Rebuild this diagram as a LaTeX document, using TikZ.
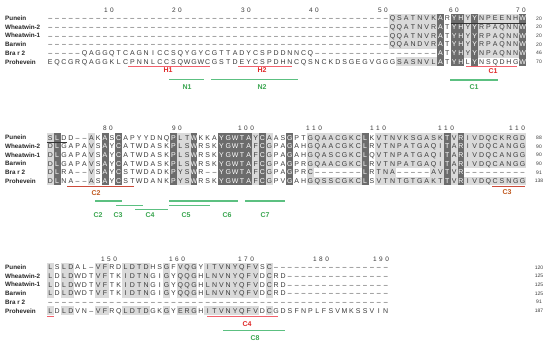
\documentclass[tikz,border=0pt]{standalone}
\usepackage{fontspec}
\setmainfont{Liberation Sans}
\definecolor{dkcell}{HTML}{6C6C6C}
\definecolor{ltcell}{HTML}{DADADA}
\definecolor{txt}{HTML}{3A3A3A}
\definecolor{redl}{HTML}{F2606C}
\definecolor{redt}{HTML}{E02828}
\definecolor{orgt}{HTML}{C0581E}
\definecolor{orgl}{HTML}{CC4A3A}
\definecolor{grnl}{HTML}{5CC081}
\definecolor{grnt}{HTML}{3AA650}
\tikzset{
  seqch/.style={anchor=base, inner sep=0pt, font=\fontsize{7}{8}\selectfont, text=txt},
  seqwh/.style={seqch, text=white},
  darkcell/.style={fill=dkcell},
  lightcell/.style={fill=ltcell},
  rowname/.style={anchor=base west, inner sep=0pt, font=\fontsize{6.3}{7}\selectfont\bfseries, text=black!85},
  rownum/.style={anchor=base, inner sep=0pt, font=\fontsize{5}{6}\selectfont, text=txt},
  colnum/.style={anchor=base, inner sep=0pt, font=\fontsize{6.5}{7}\selectfont, text=txt},
  redline/.style={draw=redl, line width=1.1pt},
  orgline/.style={draw=orgl, line width=1.1pt},
  grnline/.style={draw=grnl, line width=1.1pt},
  redlab/.style={anchor=base, inner sep=0pt, font=\fontsize{7}{8}\selectfont\bfseries, text=redt},
  orglab/.style={anchor=base, inner sep=0pt, font=\fontsize{7}{8}\selectfont\bfseries, text=orgt},
  grnlab/.style={anchor=base, inner sep=0pt, font=\fontsize{7}{8}\selectfont\bfseries, text=grnt},
  blkline/.style={draw=black!80, line width=0.7pt}
}
\newcommand\cellput[4]{%
  \if -#3\relax
    \node[seqch] at (#1,#2+2.5) {\textendash};%
  \else
    \if d#4\relax
      \fill[darkcell] (#1-3.45,#2-4.4) rectangle (#1+3.45,#2+4.4);%
      \node[seqwh] at (#1,#2+2.5) {#3};%
    \else
      \if l#4\relax
        \fill[lightcell] (#1-3.45,#2-4.4) rectangle (#1+3.45,#2+4.4);%
      \fi
      \node[seqch] at (#1,#2+2.5) {#3};%
    \fi
  \fi
}
\ExplSyntaxOn
\tl_new:N \l_aln_seq_tl
\tl_new:N \l_aln_sh_tl
\NewDocumentCommand \alnrow { m m m m }
  {
    \tl_set:Nx \l_aln_seq_tl {#3}
    \tl_set:Nx \l_aln_sh_tl {#4}
    \int_step_inline:nn { \tl_count:N \l_aln_seq_tl }
      {
        \use:x
          {
            \exp_not:N \cellput
              { \fp_eval:n { #1 + (##1 - 1) * 6.845 } }
              { #2 }
              { \tl_item:Nn \l_aln_seq_tl {##1} }
              { \tl_item:Nn \l_aln_sh_tl {##1} }
          }
      }
  }
\ExplSyntaxOff
\newcommand\rowlabel[3]{\node[rowname] at (5,#1+2.2) {#2};\node[rownum] at (539,#1+1.8) {#3};}
\def\dX{..........}
\def\dsh{----------}
\def\lE{llllllll}
\def\lX{llllllllll}
\def\lN{lllllllll}
\def\shAa{\dX\dX\dX\dX\dX llllllld.ddldlllllld}
\def\shAb{\dX\dX\dX\dX\dX.lllllld.dd.d......d}
\def\shB{ld....l.d.d.......dlld...dddddldl..d..\lE d.\lX dld\lN}
\def\shC{l.ll...ll..llll..l.lll.\lE.l\dX.......}
\begin{document}
\begin{tikzpicture}[x=1pt,y=-1pt]
\useasboundingbox (0,0) rectangle (550,343);
\fill[white] (0,0) rectangle (550,343);

% ---------- Block 1 ----------
\node[colnum] (h10) at (109,12.3) {1\kern2.5pt0};
\node[colnum] (h20) at (177,12.3) {2\kern2.5pt0};
\node[colnum] (h30) at (246,12.3) {3\kern2.5pt0};
\node[colnum] (h40) at (314,12.3) {4\kern2.5pt0};
\node[colnum] (h50) at (383,12.3) {5\kern2.5pt0};
\node[colnum] (h60) at (454,12.3) {6\kern2.5pt0};
\node[colnum] (h70) at (521,12.3) {7\kern2.5pt0};
\alnrow{50.3}{18.3}{\dsh\dsh\dsh\dsh\dsh QSATNVKARYHYYNPEENHW}{\shAa}
\alnrow{50.3}{27.0}{\dsh\dsh\dsh\dsh\dsh QQATNVRATYHYYRPAQNNW}{\shAa}
\alnrow{50.3}{35.7}{\dsh\dsh\dsh\dsh\dsh QQATNVRATYHYYRPAQNNW}{\shAa}
\alnrow{50.3}{44.4}{\dsh\dsh\dsh\dsh\dsh QQANDVRATYHYYRPAQNNW}{\shAa}
\alnrow{50.3}{53.1}{-----QAGGQTCAGNICCSQYGYCGTTADYCSPDDNNCQ\dsh--------ATYHYYNPAQNNW}{\shAa}
\alnrow{50.3}{61.8}{EQCGRQAGGKLCPNNLCCSQWGWCGSTDEYCSPDHNCQSNCKDSGEGVGGGSASNVLATYHLYNSQDHGW}{\shAb}
\rowlabel{18.3}{Punein}{20}
\rowlabel{27.0}{Wheatwin-2}{20}
\rowlabel{35.7}{Wheatwin-1}{20}
\rowlabel{44.4}{Barwin}{20}
\rowlabel{53.1}{Bra r 2}{46}
\rowlabel{61.8}{Prohevein}{70}
\draw[blkline] (450.7,22.9) -- (526,22.9);
\draw[redline] (128,66.6) -- (210,66.6);
\draw[redline] (238,66.6) -- (292,66.6);
\draw[redline] (466,66.6) -- (517,66.6);
\node[redlab] (H1) at (168,72.8) {H1};
\node[redlab] (H2) at (262,72.8) {H2};
\node[redlab] (C1r) at (493,73.3) {C1};
\draw[grnline] (169,79.3) -- (204,79.3);
\draw[grnline] (211,79.3) -- (298,79.3);
\draw[grnline] (450,80) -- (498,80);
\node[grnlab] (N1) at (187,89.8) {N1};
\node[grnlab] (N2) at (262,89.8) {N2};
\node[grnlab] (C1g) at (474,89.8) {C1};

% ---------- Block 2 ----------
\node[colnum] (h80) at (108,130.3) {8\kern2.5pt0};
\node[colnum] (h90) at (177,130.3) {9\kern2.5pt0};
\node[colnum] (h100) at (246,130.3) {1\kern2.5pt0\kern2.5pt0};
\node[colnum] (h110a) at (314,130.3) {1\kern2.5pt1\kern2.5pt0};
\node[colnum] (h110b) at (378,130.3) {1\kern2.5pt1\kern2.5pt0};
\node[colnum] (h110c) at (446,130.3) {1\kern2.5pt1\kern2.5pt0};
\node[colnum] (h110d) at (517,130.3) {1\kern2.5pt1\kern2.5pt0};
\alnrow{50.3}{137.5}{SLDD--AKASCAPYYDNQPLTWKKAYGWTAYCAASGPTGQAACGKCLKVTNVKSGASKTVRIVDQCKRGD}{\shB}
\alnrow{50.3}{146.2}{DLGAPAVSAYCATWDASKPLSWRSKYGWTAFCGPAGAHGQAACGKCLRVTNPATGAQITARIVDQCANGG}{\shB}
\alnrow{50.3}{154.9}{DLGAPAVSAYCATWDASKPLSWRSKYGWTAFCGPAGAHGQASCGKCLQVTNPATGAQITARIVDQCANGG}{\shB}
\alnrow{50.3}{163.6}{DLGAPAVSAYCATWDASKPLSWRSKYGWTAFCGPAGPRGQAACGKCLRVTNPATGAQITARIVDQCANGG}{\shB}
\alnrow{50.3}{172.3}{DLRA--VSAYCSTWDADKPYSWR--YGWTAFCGPAGPRC-------LRTNA-----AVTVR---------}{\shB}
\alnrow{50.3}{181.0}{DLNA--ASAYCSTWDANKPYSWRSKYGWTAFCGPVGAHGQSSCGKCLSVTNTGTGAKTTVRIVDQCSNGG}{\shB}
\rowlabel{137.5}{Punein}{88}
\rowlabel{146.2}{Wheatwin-2}{90}
\rowlabel{154.9}{Wheatwin-1}{90}
\rowlabel{163.6}{Barwin}{90}
\rowlabel{172.3}{Bra r 2}{91}
\rowlabel{181.0}{Prohevein}{138}
\draw[blkline] (46.9,142.1) -- (67.4,142.1);
\draw[orgline] (67,186.3) -- (134,186.3);
\draw[orgline] (492,186.3) -- (525,186.3);
\node[orglab] (C2r) at (96,195) {C2};
\node[orglab] (C3r) at (507,194.5) {C3};
\draw[grnline] (95,201) -- (122,201);
\draw[grnline] (116,205.3) -- (143,205.3);
\draw[grnline] (135,209.7) -- (168,209.7);
\draw[grnline] (169,205.3) -- (210,205.3);
\draw[grnline] (169,201) -- (238,201);
\draw[grnline] (245,201) -- (285,201);
\node[grnlab] (C2g) at (98,217.5) {C2};
\node[grnlab] (C3g) at (118,217.5) {C3};
\node[grnlab] (C4g) at (150,217.5) {C4};
\node[grnlab] (C5g) at (186,217.5) {C5};
\node[grnlab] (C6g) at (227,217.5) {C6};
\node[grnlab] (C7g) at (265,217.5) {C7};

% ---------- Block 3 ----------
\node[colnum] (h150) at (109,261.3) {1\kern2.5pt5\kern2.5pt0};
\node[colnum] (h160) at (177,261.3) {1\kern2.5pt6\kern2.5pt0};
\node[colnum] (h170) at (246,261.3) {1\kern2.5pt7\kern2.5pt0};
\node[colnum] (h180) at (321,261.3) {1\kern2.5pt8\kern2.5pt0};
\node[colnum] (h190) at (381,261.3) {1\kern2.5pt9\kern2.5pt0};
\alnrow{50.3}{267.3}{LSLDAL-VFRDLDTDHSGFVQGYITVNYQFVSC\dsh-------}{\shC}
\alnrow{50.3}{276.0}{LDLDWDTVFTKIDTNGIGYQQGHLNVNYQFVDCRD\dsh-----}{\shC}
\alnrow{50.3}{284.7}{LDLDWDTVFTKIDTNGIGYQQGHLNVNYQFVDCRD\dsh-----}{\shC}
\alnrow{50.3}{293.4}{LDLDWDTVFTKIDTNGIGYQQGHLNVNYQFVDCRD\dsh-----}{\shC}
\alnrow{50.3}{302.1}{\dsh\dsh\dsh\dsh\dsh}{\shC}
\alnrow{50.3}{310.8}{LDLDVN-VFRQLDTDGKGYERGHITVNYQFVDCGDSFNPLFSVMKSSVIN}{\shC}
\rowlabel{267.3}{Punein}{120}
\rowlabel{276.0}{Wheatwin-2}{125}
\rowlabel{284.7}{Wheatwin-1}{125}
\rowlabel{293.4}{Barwin}{125}
\rowlabel{302.1}{Bra r 2}{91}
\rowlabel{310.8}{Prohevein}{187}
\draw[redline] (47,316.6) -- (54,316.6);
\draw[redline] (207,316.6) -- (278,316.6);
\node[redlab] (C4r) at (247,326.5) {C4};
\draw[grnline] (223,330.5) -- (285,330.5);
\node[grnlab] (C8g) at (255,340) {C8};
\end{tikzpicture}
\end{document}
